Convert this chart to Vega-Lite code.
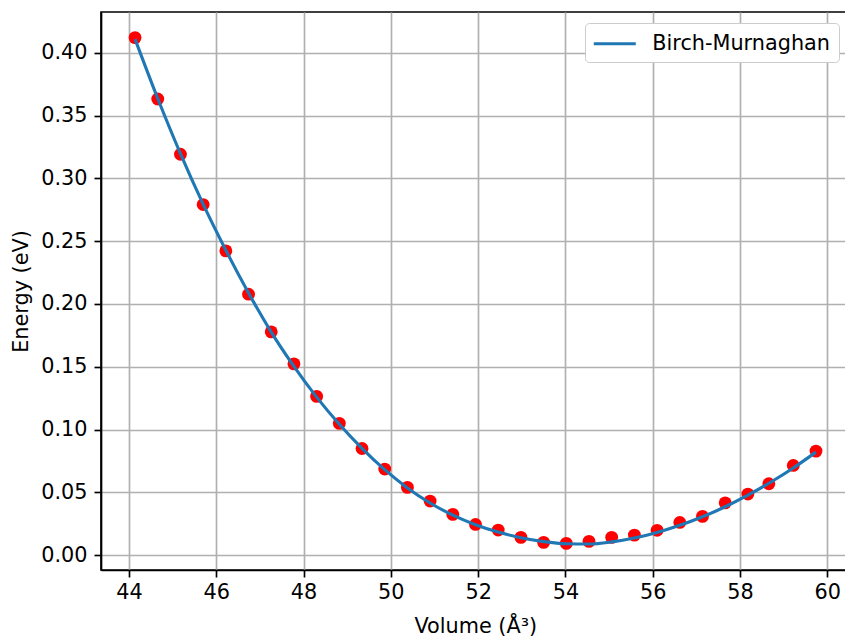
{
  "$schema": "https://vega.github.io/schema/vega-lite/v6.json",
  "autosize": {"type": "none"},
  "padding": {"left": 101, "top": 12, "right": 0, "bottom": 71},
  "width": 748.6,
  "height": 558,
  "background": "white",
  "config": {
    "font": "DejaVu Sans",
    "view": {"stroke": "black", "strokeWidth": 1.67},
    "axis": {
      "labelFont": "DejaVu Sans", "titleFont": "DejaVu Sans",
      "labelFontSize": 20.8, "titleFontSize": 20.8, "titleFontWeight": "normal",
      "labelColor": "black", "titleColor": "black",
      "tickColor": "black", "tickWidth": 1.67, "tickSize": 7,
      "domainColor": "black", "domainWidth": 1.67,
      "gridColor": "#b0b0b0", "gridWidth": 1.67, "gridOpacity": 1
    },
    "legend": {
      "labelFont": "DejaVu Sans", "labelFontSize": 20.8, "labelColor": "black", "labelLimit": 400
    }
  },
  "datasets": {
    "pts": [
      {"V": 44.14, "E": 0.4122}, {"V": 44.66, "E": 0.3633}, {"V": 45.18, "E": 0.3193},
      {"V": 45.70, "E": 0.2792}, {"V": 46.22, "E": 0.2423}, {"V": 46.74, "E": 0.2078},
      {"V": 47.26, "E": 0.1778}, {"V": 47.78, "E": 0.1523}, {"V": 48.30, "E": 0.1264},
      {"V": 48.82, "E": 0.1049}, {"V": 49.34, "E": 0.0849}, {"V": 49.86, "E": 0.0685},
      {"V": 50.38, "E": 0.0539}, {"V": 50.90, "E": 0.0430}, {"V": 51.42, "E": 0.0324},
      {"V": 51.94, "E": 0.0244}, {"V": 52.46, "E": 0.0199}, {"V": 52.98, "E": 0.0141},
      {"V": 53.50, "E": 0.0101}, {"V": 54.02, "E": 0.0093}, {"V": 54.54, "E": 0.0109},
      {"V": 55.06, "E": 0.0141}, {"V": 55.58, "E": 0.0159}, {"V": 56.10, "E": 0.0197},
      {"V": 56.62, "E": 0.0260}, {"V": 57.14, "E": 0.0308}, {"V": 57.66, "E": 0.0416},
      {"V": 58.18, "E": 0.0486}, {"V": 58.66, "E": 0.0568}, {"V": 59.22, "E": 0.0714},
      {"V": 59.74, "E": 0.0828}
    ],
    "fit": [
      {"V": 44.14, "E": 0.4110, "s": "Birch-Murnaghan"}, {"V": 44.66, "E": 0.3637, "s": "Birch-Murnaghan"},
      {"V": 45.18, "E": 0.3198, "s": "Birch-Murnaghan"}, {"V": 45.70, "E": 0.2795, "s": "Birch-Murnaghan"},
      {"V": 46.22, "E": 0.2428, "s": "Birch-Murnaghan"}, {"V": 46.74, "E": 0.2088, "s": "Birch-Murnaghan"},
      {"V": 47.26, "E": 0.1776, "s": "Birch-Murnaghan"}, {"V": 47.78, "E": 0.1503, "s": "Birch-Murnaghan"},
      {"V": 48.30, "E": 0.1258, "s": "Birch-Murnaghan"}, {"V": 48.82, "E": 0.1042, "s": "Birch-Murnaghan"},
      {"V": 49.34, "E": 0.0850, "s": "Birch-Murnaghan"}, {"V": 49.86, "E": 0.0680, "s": "Birch-Murnaghan"},
      {"V": 50.38, "E": 0.0535, "s": "Birch-Murnaghan"}, {"V": 50.90, "E": 0.0415, "s": "Birch-Murnaghan"},
      {"V": 51.42, "E": 0.0318, "s": "Birch-Murnaghan"}, {"V": 51.94, "E": 0.0242, "s": "Birch-Murnaghan"},
      {"V": 52.46, "E": 0.0183, "s": "Birch-Murnaghan"}, {"V": 52.98, "E": 0.0138, "s": "Birch-Murnaghan"},
      {"V": 53.50, "E": 0.0107, "s": "Birch-Murnaghan"}, {"V": 54.02, "E": 0.0090, "s": "Birch-Murnaghan"},
      {"V": 54.54, "E": 0.0088, "s": "Birch-Murnaghan"}, {"V": 55.06, "E": 0.0105, "s": "Birch-Murnaghan"},
      {"V": 55.58, "E": 0.0136, "s": "Birch-Murnaghan"}, {"V": 56.10, "E": 0.0180, "s": "Birch-Murnaghan"},
      {"V": 56.62, "E": 0.0237, "s": "Birch-Murnaghan"}, {"V": 57.14, "E": 0.0305, "s": "Birch-Murnaghan"},
      {"V": 57.66, "E": 0.0385, "s": "Birch-Murnaghan"}, {"V": 58.18, "E": 0.0477, "s": "Birch-Murnaghan"},
      {"V": 58.70, "E": 0.0580, "s": "Birch-Murnaghan"}, {"V": 59.22, "E": 0.0694, "s": "Birch-Murnaghan"},
      {"V": 59.74, "E": 0.0820, "s": "Birch-Murnaghan"}
    ]
  },
  "encoding": {
    "x": {
      "field": "V", "type": "quantitative",
      "scale": {"domain": [43.36, 60.51], "nice": false, "zero": false},
      "axis": {
        "title": "Volume (Å³)", "values": [44, 46, 48, 50, 52, 54, 56, 58, 60],
        "format": "d", "labelPadding": 6, "titleY": 63, "titleBaseline": "alphabetic"
      }
    },
    "y": {
      "field": "E", "type": "quantitative",
      "scale": {"domain": [-0.0119, 0.4326], "nice": false, "zero": false},
      "axis": {
        "title": "Energy (eV)", "values": [0, 0.05, 0.1, 0.15, 0.2, 0.25, 0.3, 0.35, 0.4],
        "format": ".2f", "labelPadding": 7, "titleX": -73, "titleY": 279,
        "titleBaseline": "alphabetic", "titleAlign": "center"
      }
    }
  },
  "layer": [
    {
      "data": {"name": "pts"},
      "mark": {"type": "circle", "color": "#ff0000", "opacity": 1, "size": 165}
    },
    {
      "data": {"name": "fit"},
      "mark": {"type": "line", "strokeWidth": 3.1, "interpolate": "monotone"},
      "encoding": {
        "color": {
          "field": "s", "type": "nominal",
          "scale": {"range": ["#1f77b4"]},
          "legend": {
            "title": null, "orient": "top-right", "offset": 10.5,
            "symbolType": "M-2,0H2", "symbolSize": 441, "symbolStrokeWidth": 3.1,
            "symbolOffset": 9, "symbolFillColor": "transparent",
            "labelOffset": 25, "padding": 8.3, "labelLimit": 400,
            "strokeColor": "#cccccc", "fillColor": "white", "cornerRadius": 4
          }
        }
      }
    }
  ]
}
